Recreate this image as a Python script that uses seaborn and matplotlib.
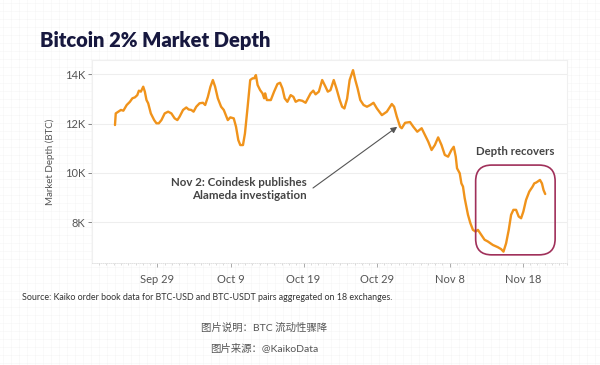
import matplotlib
matplotlib.use("Agg")
import matplotlib.pyplot as plt
import matplotlib.dates as mdates
from matplotlib.patches import FancyBboxPatch, Rectangle
import seaborn as sns
import pandas as pd
import numpy as np

# ---------------- data ----------------
timestamps = [
    "2022-09-23 04:30", "2022-09-23 07:00", "2022-09-23 15:40", "2022-09-24 00:00", "2022-09-24 08:00",
    "2022-09-24 19:00", "2022-09-25 05:30", "2022-09-25 13:30", "2022-09-25 22:00", "2022-09-26 05:45",
    "2022-09-26 11:00", "2022-09-26 17:30", "2022-09-27 01:15", "2022-09-27 06:30", "2022-09-27 12:00",
    "2022-09-27 17:30", "2022-09-28 02:10", "2022-09-28 13:10", "2022-09-28 20:40", "2022-09-29 04:20",
    "2022-09-29 13:00", "2022-09-29 23:45", "2022-09-30 11:00", "2022-09-30 21:40", "2022-10-01 08:25",
    "2022-10-01 17:20", "2022-10-02 00:45", "2022-10-02 12:00", "2022-10-02 22:45", "2022-10-03 06:15",
    "2022-10-03 15:00", "2022-10-03 22:35", "2022-10-04 07:25", "2022-10-04 18:15", "2022-10-05 05:20",
    "2022-10-05 12:45", "2022-10-05 21:35", "2022-10-06 06:00", "2022-10-06 13:55", "2022-10-06 21:20",
    "2022-10-07 06:15", "2022-10-07 17:00", "2022-10-08 01:45", "2022-10-08 15:00", "2022-10-08 23:20",
    "2022-10-09 10:30", "2022-10-09 18:00", "2022-10-10 01:30", "2022-10-10 08:00", "2022-10-10 16:50",
    "2022-10-10 23:20", "2022-10-11 08:10", "2022-10-11 16:35", "2022-10-12 00:25", "2022-10-12 05:45",
    "2022-10-12 11:15", "2022-10-12 16:50", "2022-10-13 01:15", "2022-10-13 09:00", "2022-10-13 14:25",
    "2022-10-13 17:35", "2022-10-13 23:15", "2022-10-14 12:15", "2022-10-14 23:00", "2022-10-15 10:05",
    "2022-10-15 18:40", "2022-10-16 02:25", "2022-10-16 09:55", "2022-10-16 18:40", "2022-10-17 05:30",
    "2022-10-17 14:25", "2022-10-17 21:50", "2022-10-18 08:40", "2022-10-18 19:40", "2022-10-19 06:30",
    "2022-10-19 14:05", "2022-10-19 22:50", "2022-10-20 07:40", "2022-10-20 15:10", "2022-10-21 02:00",
    "2022-10-21 13:00", "2022-10-21 23:50", "2022-10-22 07:25", "2022-10-22 16:10", "2022-10-23 02:55",
    "2022-10-23 11:45", "2022-10-23 22:35", "2022-10-24 06:25", "2022-10-24 13:55", "2022-10-24 22:45",
    "2022-10-25 07:10", "2022-10-25 18:15", "2022-10-26 01:45", "2022-10-26 09:20", "2022-10-26 18:10",
    "2022-10-27 04:50", "2022-10-27 16:00", "2022-10-28 02:50", "2022-10-28 13:30", "2022-10-29 00:40",
    "2022-10-29 17:00", "2022-10-30 09:20", "2022-10-31 01:40", "2022-10-31 09:10", "2022-10-31 18:00",
    "2022-11-01 04:50", "2022-11-01 10:20", "2022-11-01 21:10", "2022-11-02 13:25", "2022-11-03 00:15",
    "2022-11-03 13:15", "2022-11-04 03:35", "2022-11-04 14:25", "2022-11-05 01:10", "2022-11-05 12:15",
    "2022-11-05 23:00", "2022-11-06 09:50", "2022-11-06 20:55", "2022-11-07 07:40", "2022-11-07 18:30",
    "2022-11-08 05:30", "2022-11-08 13:00", "2022-11-08 19:40", "2022-11-08 23:50", "2022-11-09 08:40",
    "2022-11-09 14:10", "2022-11-09 19:25", "2022-11-10 01:00", "2022-11-10 06:30", "2022-11-10 11:45",
    "2022-11-10 19:40", "2022-11-11 04:05", "2022-11-11 12:55", "2022-11-11 20:25", "2022-11-12 07:30",
    "2022-11-12 18:15", "2022-11-13 05:05", "2022-11-13 21:20", "2022-11-14 13:40", "2022-11-15 00:45",
    "2022-11-15 08:25", "2022-11-15 17:05", "2022-11-16 01:40", "2022-11-16 09:25", "2022-11-16 17:00",
    "2022-11-17 01:45", "2022-11-17 10:20", "2022-11-17 18:15", "2022-11-18 01:40", "2022-11-18 10:30",
    "2022-11-18 21:10", "2022-11-19 08:00", "2022-11-19 13:30", "2022-11-19 19:10", "2022-11-20 00:15",
    "2022-11-20 08:10", "2022-11-20 14:40", "2022-11-20 20:00", "2022-11-21 01:30",
]
depth_btc = [
    11940, 12410, 12480, 12550, 12520,
    12750, 12880, 13020, 13060, 13150,
    13330, 13290, 13490, 13290, 12950,
    12820, 12410, 12140, 12010, 12010,
    12140, 12410, 12480, 12410, 12210,
    12140, 12280, 12550, 12650, 12570,
    12550, 12480, 12680, 12820, 12840,
    12750, 13080, 13490, 13760, 13490,
    13020, 12680, 12550, 12140, 12250,
    12210, 11870, 11330, 11130, 11130,
    11600, 12680, 13760, 13830, 13830,
    13960, 13560, 13350, 13220, 13020,
    13220, 12950, 12950, 13290, 13600,
    13650, 13420, 13020, 12880, 13150,
    13080, 12880, 12950, 12920, 12840,
    13020, 13220, 13330, 13180, 13290,
    13760, 13490, 13290, 13350, 13760,
    13420, 12950, 12680, 12610, 13000,
    13760, 14160, 13760, 13420, 12950,
    12750, 12680, 12750, 12840, 12610,
    12340, 12480, 12790, 12680, 12280,
    11870, 11810, 12030, 12060, 11870,
    11670, 11810, 11540, 11270, 10930,
    11130, 11440, 11130, 10730, 10660,
    10930, 11060, 10660, 10190, 9990,
    9580, 9450, 8980, 8640, 8310,
    7970, 7700, 7630, 7700, 7500,
    7300, 7230, 7090, 7000, 6920,
    6820, 7160, 7700, 8310, 8510,
    8510, 8240, 8170, 8440, 8910,
    9250, 9450, 9580, 9610, 9650,
    9720, 9580, 9310, 9150,
]
xtick_dates = ["2022-09-29", "2022-10-09", "2022-10-19", "2022-10-29", "2022-11-08", "2022-11-18"]
xtick_labels = ["Sep 29", "Oct 9", "Oct 19", "Oct 29", "Nov 8", "Nov 18"]
ytick_values = [8000, 10000, 12000, 14000]
ytick_labels = ["8K", "10K", "12K", "14K"]

title = "Bitcoin 2% Market Depth"
ylabel = "Market Depth (BTC)"
annot_text = "Nov 2: Coindesk publishes\nAlameda investigation"
annot_date = "2022-10-31 23:00"
annot_value = 11900
recover_text = "Depth recovers"
source_text = "Source: Kaiko order book data for BTC-USD and BTC-USDT pairs aggregated on 18 exchanges."
caption1 = "图片说明：BTC 流动性骤降"
caption2 = "图片来源：@KaikoData"

df = pd.DataFrame({"time": pd.to_datetime(timestamps), "depth": depth_btc})

# ---------------- style ----------------
sns.set_theme(style="white")
plt.rcParams["font.family"] = ["Lato", "Noto Sans CJK SC", "DejaVu Sans"]

W, H = 600, 365
fig = plt.figure(figsize=(6, 3.65), dpi=100)
fig.patch.set_facecolor("white")

# faint paper grid background
bg = fig.add_axes([0, 0, 1, 1], zorder=-10)
bg.set_xlim(0, W)
bg.set_ylim(H, 0)
bg.axis("off")
for gx in np.arange(3, W, 8):
    bg.axvline(gx, color="#ececec", lw=0.4, ls=(0, (1, 1)))
for gy in np.arange(3, H, 8):
    bg.axhline(gy, color="#ececec", lw=0.4, ls=(0, (1, 1)))
bg.add_patch(Rectangle((28, 14), 557, 292, facecolor="white", edgecolor="none"))
bg.add_patch(Rectangle((190, 318), 150, 42, facecolor="white", edgecolor="none", alpha=0.6))

ax = fig.add_axes([92 / W, 1 - 263 / H, (567 - 92) / W, (263 - 60) / H])
ax.set_facecolor("white")

sns.lineplot(data=df, x="time", y="depth", ax=ax, color="#F0931B", linewidth=1.7)

ax.set_ylim(6360, 14570)
ax.set_xlim(pd.Timestamp("2022-09-20 01:00"), pd.Timestamp("2022-11-24 01:00"))

ax.set_yticks(ytick_values)
ax.set_yticklabels(ytick_labels)
ax.set_xticks(pd.to_datetime(xtick_dates))
ax.set_xticklabels(xtick_labels)
ax.xaxis.set_minor_locator(mdates.DayLocator())

ax.grid(axis="y", color="#eeeeee", linewidth=0.8)
ax.set_axisbelow(True)
for side in ["top", "right", "left"]:
    ax.spines[side].set_color("#f0f0f0")
    ax.spines[side].set_linewidth(0.8)
ax.spines["bottom"].set_color("#dddddd")
ax.spines["bottom"].set_linewidth(0.6)
ax.spines["bottom"].set_linestyle((0, (1, 1.5)))

ax.tick_params(axis="y", which="major", length=3, width=0.7, color="#888888",
               labelsize=8, labelcolor="#555555", pad=2, left=True)
ax.tick_params(axis="x", which="major", length=3, width=0.7, color="#aaaaaa",
               labelsize=8, labelcolor="#555555", pad=5, bottom=True)
ax.tick_params(axis="x", which="minor", length=1.5, width=0.5, color="#cccccc", bottom=True)

ax.set_xlabel("")
ax.set_ylabel(ylabel, fontsize=7, color="#555555", labelpad=7)

# annotation text and arrow
fig.text(307 / W, 1 - 189 / H, annot_text, ha="right", va="center", fontsize=8.3,
         fontweight="bold", color="#444444", linespacing=1.25)
ax.annotate("", xy=(pd.Timestamp(annot_date), annot_value),
            xytext=(313, H - 188), textcoords="figure pixels",
            arrowprops=dict(arrowstyle="-|>", color="#555555", lw=0.8,
                            shrinkA=0, shrinkB=1, mutation_scale=9))

# rounded highlight box (built in inches so corners stay round)
fig.canvas.draw()
x0_d = mdates.date2num(pd.Timestamp("2022-11-11 13:00"))
x1_d = mdates.date2num(pd.Timestamp("2022-11-22 10:00"))
p0 = ax.transData.transform((x0_d, 6690))
p1 = ax.transData.transform((x1_d, 10320))
inv = fig.dpi_scale_trans.inverted()
q0 = inv.transform(p0)
q1 = inv.transform(p1)
box = FancyBboxPatch((q0[0], q0[1]), q1[0] - q0[0], q1[1] - q0[1],
                     boxstyle="round,pad=0,rounding_size=0.16",
                     transform=fig.dpi_scale_trans, fill=False,
                     edgecolor="#A0305A", linewidth=1.2, zorder=5)
fig.add_artist(box)
ax.text((x0_d + x1_d) / 2, 10650, recover_text, ha="center", va="bottom",
        fontsize=8.2, fontweight="bold", color="#444444")

# title and texts
fig.text(40 / W, 1 - 40 / H, title, fontsize=14.5, fontweight="heavy",
         color="#17183F", ha="left", va="center")
fig.text(22 / W, 1 - 298 / H, source_text, fontsize=6.4, color="#333333",
         ha="left", va="center")
fig.text(264 / W, 1 - 328 / H, caption1, fontsize=7.5, color="#555555",
         ha="center", va="center")
fig.text(264 / W, 1 - 349 / H, caption2, fontsize=7.5, color="#555555",
         ha="center", va="center")

fig.savefig("out.png", dpi=100)
